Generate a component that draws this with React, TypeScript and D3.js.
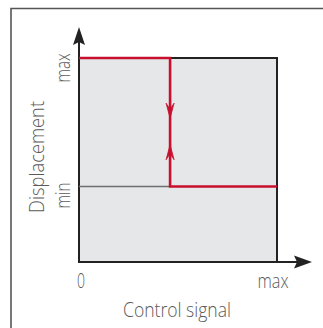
import React from "react";
import * as d3 from "d3";

const W = 323;
const H = 328;

// Data (normalised units: 0 = origin, 1 = max)
const xTickLabels = ["0", "max"];
const xTickValues = [0, 1];
const yTickLabels = ["min", "max"];
const yTickValues = [0.37, 1];
const switchX = 0.46;
const redPathX = [0, switchX, switchX, 1];
const redPathY = [1, 1, 0.37, 0.37];
const greyLineX = [0, switchX];
const greyLineY = [0.37, 0.37];
const downArrowTip = 0.705;
const upArrowTip = 0.575;
const xTitle = "Control signal";
const yTitle = "Displacement";

const x = d3.scaleLinear().domain([0, 1]).range([79, 277]);
const y = d3.scaleLinear().domain([0, 1]).range([262, 58]);

const RED = "#c8102e";
const TXT = "#5a5a5a";
const FONT = "'Open Sans', 'Noto Sans', sans-serif";
const FS = 20;

export default function App() {
  const line = d3
    .line<[number, number]>()
    .x((d) => x(d[0]))
    .y((d) => y(d[1]));
  const redPts = redPathX.map((v, i) => [v, redPathY[i]] as [number, number]);
  const greyPts = greyLineX.map((v, i) => [v, greyLineY[i]] as [number, number]);

  const x0 = x(0), x1 = x(1), y0 = y(0), y1 = y(1);
  const sx = x(switchX);
  const dTip = y(downArrowTip);
  const uTip = y(upArrowTip);

  const xLens = [8, 31];
  const txtProps = {
    fontFamily: FONT,
    fontSize: FS,
    fontWeight: 300,
    fill: TXT,
    lengthAdjust: "spacingAndGlyphs",
  } as const;
  return (
    <svg
      width={W}
      height={H}
      style={{ position: "absolute", left: 0, top: 0, background: "#fff" }}
    >
      {/* outer frame */}
      <path d={`M11,${H} L11,8.5 L${W},8.5`} fill="none" stroke="#555" strokeWidth={1.6} />
      {/* plot box */}
      <rect x={x0} y={y1} width={x1 - x0} height={y0 - y1} fill="#e6e7e9" stroke="#222" strokeWidth={2} />
      {/* axes with arrows */}
      <line x1={x0} y1={y0} x2={x0} y2={40} stroke="#222" strokeWidth={2} />
      <path d={`M${x0},27 L${x0 + 6},45 L${x0},42 L${x0 - 6},45 Z`} fill="#222" />
      <line x1={x0} y1={y0} x2={300} y2={y0} stroke="#222" strokeWidth={2} />
      <path d={`M312,${y0} L294,${y0 - 6.5} L297,${y0} L294,${y0 + 6.5} Z`} fill="#222" />
      {/* grey min line */}
      <path d={line(greyPts) || ""} fill="none" stroke="#6e6e6e" strokeWidth={1.5} />
      {/* red hysteresis path */}
      <path d={line(redPts) || ""} fill="none" stroke={RED} strokeWidth={2.6} />
      {/* red direction arrows */}
      <path d={`M${sx},${dTip} L${sx - 4},${dTip - 15} L${sx},${dTip - 9} L${sx + 4},${dTip - 15} Z`} fill={RED} stroke={RED} strokeWidth={0.8} />
      <path d={`M${sx},${uTip} L${sx - 4},${uTip + 15} L${sx},${uTip + 9} L${sx + 4},${uTip + 15} Z`} fill={RED} stroke={RED} strokeWidth={0.8} />
      {/* x tick labels */}
      {xTickLabels.map((t, i) => (
        <text
          key={t}
          x={x(xTickValues[i]) + (i === 0 ? 2 : -4)}
          y={288}
          textAnchor="middle"
          textLength={xLens[i]}
          {...txtProps}
        >
          {t}
        </text>
      ))}
      {/* y tick labels */}
      {yTickLabels.map((t, i) => (
        <text
          key={t}
          transform={`translate(70,${y(yTickValues[i]) + (i === 0 ? 9 : 10)}) rotate(-90)`}
          textAnchor="middle"
          textLength={i === 0 ? 26 : 29}
          {...txtProps}
        >
          {t}
        </text>
      ))}
      {/* axis titles */}
      <text x={177} y={317} textAnchor="middle" textLength={108} {...txtProps}>
        {xTitle}
      </text>
      <text transform="translate(44,157) rotate(-90)" textAnchor="middle" textLength={112} {...txtProps}>
        {yTitle}
      </text>
    </svg>
  );
}
